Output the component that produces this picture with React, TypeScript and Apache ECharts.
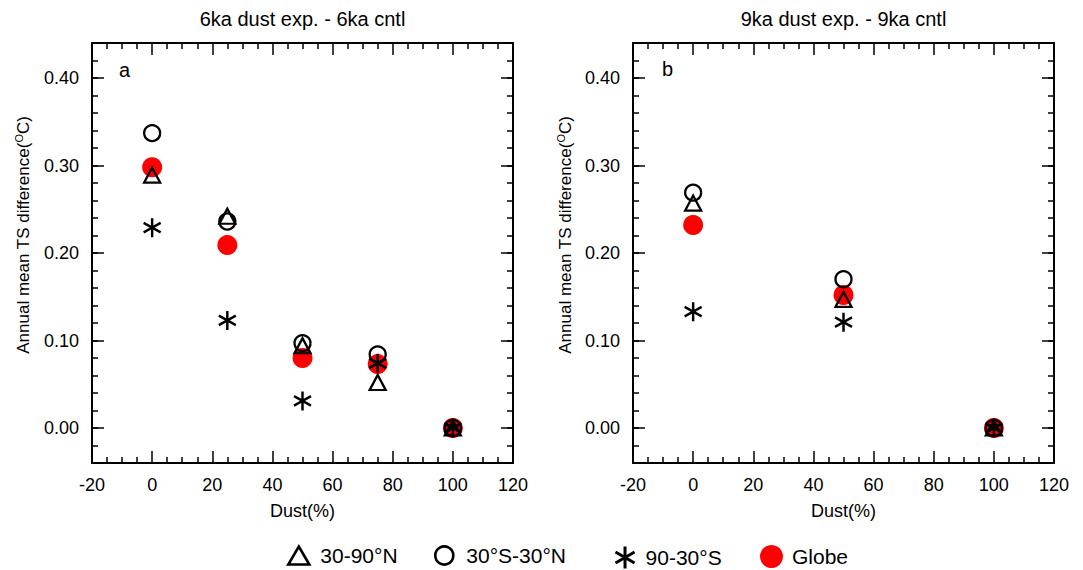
import React, { useEffect, useRef } from "react";
import * as echarts from "echarts";

const FONT = "Liberation Sans, Arial, Helvetica, sans-serif";

// Panel a: 6ka dust exp. - 6ka cntl
const dust6 = [0, 25, 50, 75, 100];
const nh6 = [0.289, 0.242, 0.094, 0.052, 0];
const trop6 = [0.337, 0.236, 0.097, 0.084, 0];
const sh6 = [0.229, 0.123, 0.031, 0.074, 0];
const globe6 = [0.298, 0.209, 0.08, 0.073, 0];

// Panel b: 9ka dust exp. - 9ka cntl
const dust9 = [0, 50, 100];
const nh9 = [0.257, 0.147, 0];
const trop9 = [0.269, 0.17, 0];
const sh9 = [0.133, 0.121, 0];
const globe9 = [0.232, 0.152, 0];

const yMajor = [0, 0.1, 0.2, 0.3, 0.4];
const seriesNames = ["30-90°N", "30°S-30°N", "90-30°S", "Globe"];
const titles = ["6ka dust exp. - 6ka cntl", "9ka dust exp. - 9ka cntl"];
const panelLetters = ["a", "b"];

const ASTER = "path://M10,0L10,20M1.34,5L18.66,15M1.34,15L18.66,5";

const hollow = { color: "rgba(0,0,0,0)", borderColor: "#000", borderWidth: 2.3, opacity: 1 };
const asterStyle = { color: "rgba(0,0,0,0)", borderColor: "#000", borderWidth: 2.6, opacity: 1 };
const redStyle = { color: "#ff0000", opacity: 1 };

function pairs(xs: number[], ys: number[]) {
  return xs.map((x, i) => [x, ys[i]]);
}

export default function App() {
  const ref = useRef<HTMLDivElement>(null);
  useEffect(() => {
    if (!ref.current) return;
    const chart = echarts.init(ref.current, null, { renderer: "svg" });
    const grids = [
      { left: 92, top: 43, width: 421, height: 420 },
      { left: 633, top: 43, width: 421, height: 420 },
    ];
    const tickLine = { color: "#000", width: 1.5 };
    const xAxes: any[] = [];
    const yAxes: any[] = [];
    grids.forEach((_, g) => {
      ["bottom", "top"].forEach((pos) => {
        xAxes.push({
          type: "value",
          gridIndex: g,
          position: pos,
          min: -20,
          max: 120,
          interval: 20,
          axisLine: { show: true, onZero: false, lineStyle: { color: "#000", width: 2 } },
          axisTick: { show: true, inside: true, length: 12, lineStyle: tickLine },
          minorTick: { show: true, splitNumber: 4, length: 6, lineStyle: tickLine },
          splitLine: { show: false },
          axisLabel: {
            show: pos === "bottom",
            margin: 13,
            fontSize: 18,
            color: "#000",
            fontFamily: FONT,
          },
          name: pos === "bottom" ? "Dust(%)" : "",
          nameLocation: "middle",
          nameGap: 39,
          nameTextStyle: { fontSize: 18, color: "#000", fontFamily: FONT },
        });
      });
      ["left", "right"].forEach((pos) => {
        yAxes.push({
          type: "value",
          gridIndex: g,
          position: pos,
          min: -0.04,
          max: 0.44,
          axisLine: { show: true, onZero: false, lineStyle: { color: "#000", width: 2 } },
          axisTick: { show: true, inside: true, length: 12, lineStyle: tickLine, customValues: yMajor },
          splitLine: { show: false },
          axisLabel: {
            show: pos === "left",
            customValues: yMajor,
            formatter: (v: number) => v.toFixed(2),
            margin: 13,
            fontSize: 18,
            color: "#000",
            fontFamily: FONT,
          },
        });
        yAxes.push({
          type: "value",
          gridIndex: g,
          position: pos,
          min: -0.04,
          max: 0.44,
          interval: 0.02,
          axisLine: { show: false, onZero: false },
          axisTick: { show: true, inside: true, length: 6, lineStyle: tickLine },
          splitLine: { show: false },
          axisLabel: { show: false },
        });
      });
    });

    const panelData = [
      { xs: dust6, nh: nh6, trop: trop6, sh: sh6, globe: globe6 },
      { xs: dust9, nh: nh9, trop: trop9, sh: sh9, globe: globe9 },
    ];
    const series: any[] = [];
    panelData.forEach((p, g) => {
      const common = { type: "scatter", xAxisIndex: g * 2, yAxisIndex: g * 4, emphasis: { disabled: true } };
      series.push({
        ...common,
        name: seriesNames[3],
        data: pairs(p.xs, p.globe),
        symbol: "circle",
        symbolSize: 20,
        itemStyle: redStyle,
      });
      series.push({
        ...common,
        name: seriesNames[0],
        data: pairs(p.xs, p.nh),
        symbol: "triangle",
        symbolSize: [16, 15],
        itemStyle: hollow,
      });
      series.push({
        ...common,
        name: seriesNames[1],
        data: pairs(p.xs, p.trop),
        symbol: "circle",
        symbolSize: 16,
        itemStyle: hollow,
      });
      series.push({
        ...common,
        name: seriesNames[2],
        data: pairs(p.xs, p.sh),
        symbol: ASTER,
        symbolSize: [17, 19],
        itemStyle: asterStyle,
      });
    });

    const legendText = (pad: number) => ({
      fontSize: 21,
      color: "#000",
      fontFamily: FONT,
      padding: [0, 0, 0, pad],
    });
    const legends = [
      { data: [seriesNames[0]], left: 287, icon: "triangle", itemWidth: 21, itemHeight: 18, itemStyle: { ...hollow, borderWidth: 2.6 }, textStyle: legendText(6) },
      { data: [seriesNames[1]], left: 434, icon: "circle", itemWidth: 18, itemHeight: 18, itemStyle: { ...hollow, borderWidth: 2.6 }, textStyle: legendText(8) },
      { data: [seriesNames[2]], left: 614, icon: ASTER, itemWidth: 21, itemHeight: 22, itemStyle: { ...asterStyle, borderWidth: 3 }, textStyle: legendText(5) },
      { data: [seriesNames[3]], left: 760, icon: "circle", itemWidth: 23, itemHeight: 23, itemStyle: redStyle, textStyle: legendText(4) },
    ].map((l) => ({ ...l, top: 545, padding: 0, selectedMode: false }));

    const yLabel = (x: number) => ({
      type: "text",
      x,
      y: 235,
      rotation: Math.PI / 2,
      style: {
        text: "Annual mean TS difference({sup|O}C)",
        fontSize: 17,
        fontFamily: FONT,
        fill: "#000",
        align: "center",
        verticalAlign: "middle",
        rich: {
          sup: { fontSize: 11, fontFamily: FONT, fill: "#000", verticalAlign: "top", padding: [0, 0, 8, 0] },
        },
      },
    });

    chart.setOption({
      animation: false,
      backgroundColor: "#fff",
      title: grids.map((gr, i) => ({
        text: titles[i],
        left: gr.left + gr.width / 2,
        textAlign: "center",
        top: 9,
        padding: 0,
        textStyle: { fontSize: 20, fontWeight: "normal", color: "#000", fontFamily: FONT },
      })),
      grid: grids,
      xAxis: xAxes,
      yAxis: yAxes,
      legend: legends,
      series,
      graphic: [
        yLabel(23),
        yLabel(565),
        {
          type: "text",
          x: 119,
          y: 70,
          style: { text: panelLetters[0], fontSize: 20, fontFamily: FONT, fill: "#000", verticalAlign: "middle" },
        },
        {
          type: "text",
          x: 662,
          y: 69,
          style: { text: panelLetters[1], fontSize: 20, fontFamily: FONT, fill: "#000", verticalAlign: "middle" },
        },
      ],
    });
    return () => chart.dispose();
  }, []);
  return (
    <div
      ref={ref}
      style={{ position: "fixed", left: 0, top: 0, width: 1083, height: 570, background: "#fff" }}
    />
  );
}
